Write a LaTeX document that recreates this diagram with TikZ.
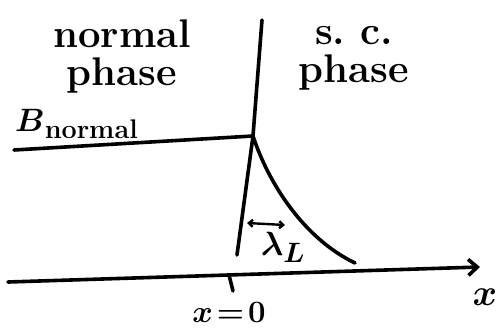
\documentclass[tikz,border=0pt]{standalone}
\usepackage{amsmath,amssymb}
\usepackage{tikz}
\usetikzlibrary{arrows.meta}

\tikzset{
  pen/.style={line width=3.6pt, line cap=round, line join=round},
  big/.style={font=\fontsize{40}{38}\selectfont\bfseries, inner sep=1pt},
  mid/.style={font=\fontsize{24.88}{30}\selectfont, inner sep=1pt}
}

\begin{document}
\begin{tikzpicture}[x=1pt, y=-1pt]
\useasboundingbox (0,0) rectangle (498,327);

			\coordinate (wtop) at (262,20);
			\coordinate (junc) at (253,136);
			\coordinate (wbot) at (237,255);
			\coordinate (bstart) at (14,150);
			\coordinate (axstart) at (8,282);
			\coordinate (axend) at (480,267);
			\coordinate (ticktop) at (229,275);
			\coordinate (tickbot) at (233,291);
			\coordinate (decayend) at (355,263);
			\coordinate (lamleft) at (247,223);
			\coordinate (lamright) at (285,225);

			\node[big, align=center] (normal) at (122,56) {normal\\phase};
			\node[big, align=center] (sc) at (354,58) {s.\ c.\\phase};
			\node[mid, anchor=west] (bnormal) at (14,124) {\scalebox{1.3}{$\boldsymbol{B}_{\textbf{normal}}$}};

\draw[pen] (wtop) -- (junc) -- (wbot);
\draw[pen] (bstart) -- (junc);
\draw[pen] (junc) .. controls (268,182) and (303,238) .. (decayend);
\draw[pen, -{Straight Barb[length=9pt, width=16pt]}] (axstart) -- (axend);
\draw[pen] (ticktop) -- (tickbot);

\draw[line width=2.4pt, {Straight Barb[length=4pt, width=7pt]}-{Straight Barb[length=4pt, width=7pt]}] (lamleft) -- (lamright);
			\node[mid] (lambda) at (283,247) {\scalebox{1.35}{$\boldsymbol{\lambda_L}$}};

			\node[mid] (origin) at (229,312) {\scalebox{1.25}{$\boldsymbol{x\!=\!0}$}};
			\node[mid] (xlabel) at (485,297) {\scalebox{1.5}{$\boldsymbol{x}$}};
\end{tikzpicture}
\end{document}
